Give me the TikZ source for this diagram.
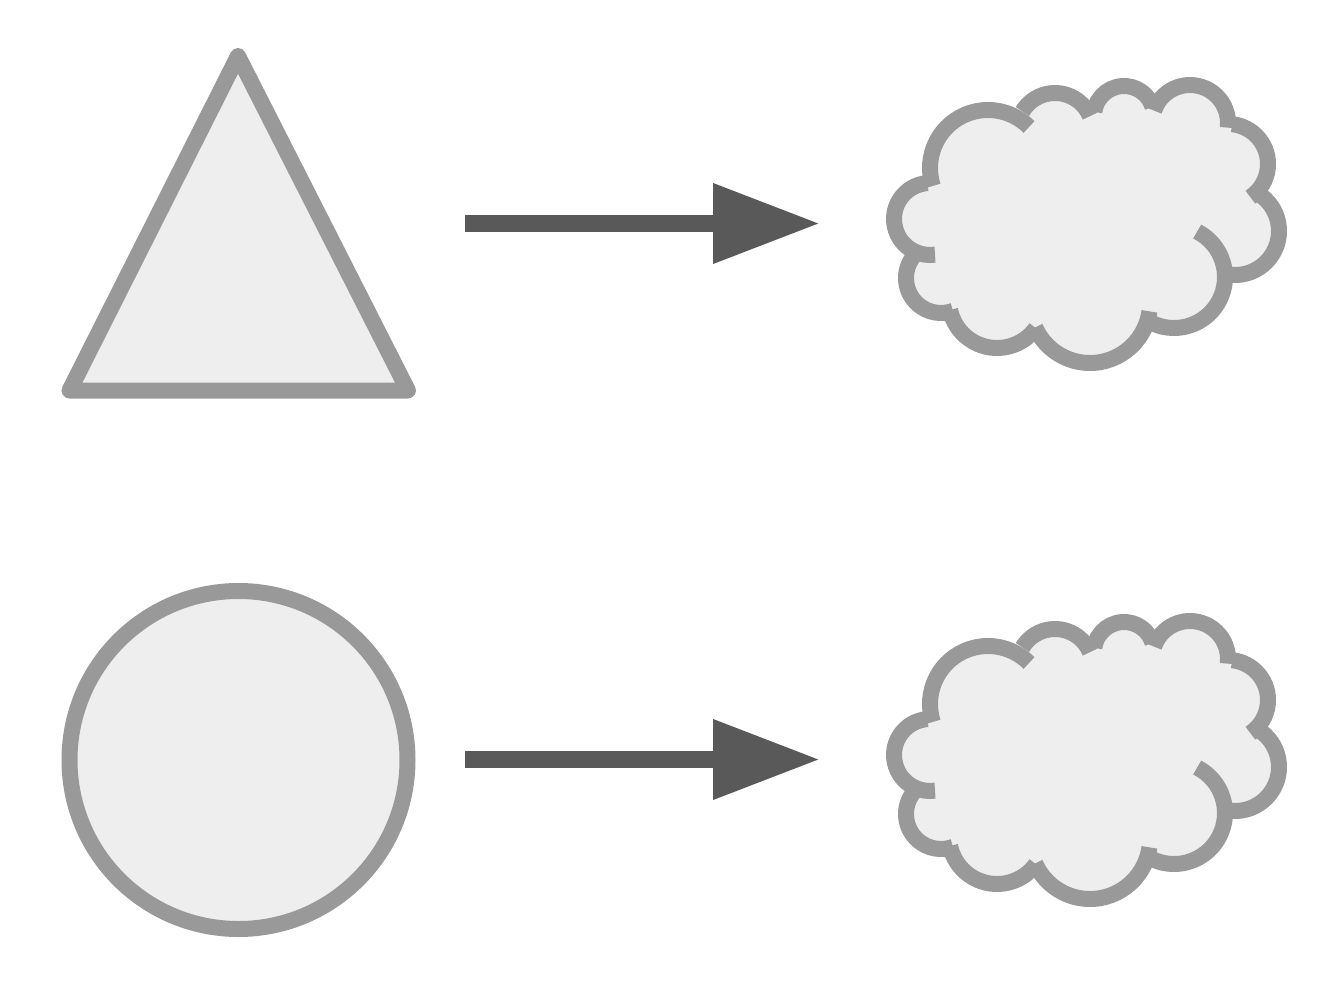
\documentclass[tikz,border=0pt]{standalone}
\usetikzlibrary{arrows.meta}
\definecolor{edgegray}{HTML}{999999}
\definecolor{shapefill}{HTML}{EEEEEE}
\definecolor{arrowgray}{HTML}{595959}
\tikzset{
  shapeline/.style={draw=edgegray, fill=shapefill, line width=16pt, line join=round},
  cloudarc/.style={draw=edgegray, line width=16pt, line cap=butt},
  bigarrow/.style={draw=arrowgray, fill=arrowgray, line width=17pt, line cap=butt,
    -{Triangle[length=107pt,width=76pt]}}
}
% one arc of the cloud outline: centre x, centre y, radius, start angle, end angle
\newcommand\puffarc[5]{\draw[cloudarc] ([shift={(#4:#3)}]#1,#2) arc[start angle=#4,end angle=#5,radius=#3];}
\newcommand\puffcloud{%
  \fill[shapefill] (930,185) -- (988,168) -- (1028,124) -- (1055,131) -- (1092,112) -- (1124,116)
     -- (1153,109) -- (1190,123) -- (1230,127) -- (1228,164) -- (1254,198)
     -- (1235,231) -- (1174,277) -- (1150,311) -- (1090,303) -- (1035,327) -- (997,300)
     -- (951,310) -- (941,278) -- (933,254) -- (930,219) -- cycle;
  \fill[shapefill] (988,168) circle[radius=58];
  \fill[shapefill] (1055,131) circle[radius=38];
  \fill[shapefill] (1124,116) circle[radius=30];
  \fill[shapefill] (1190,123) circle[radius=38];
  \fill[shapefill] (1228,164) circle[radius=40];
  \fill[shapefill] (1235,231) circle[radius=44];
  \fill[shapefill] (1174,277) circle[radius=51];
  \fill[shapefill] (1090,303) circle[radius=60];
  \fill[shapefill] (997,300) circle[radius=48];
  \fill[shapefill] (941,278) circle[radius=35];
  \fill[shapefill] (930,219) circle[radius=36];
  \puffarc{988}{168}{58}{162}{315}
  \puffarc{1055}{131}{38}{211}{337}
  \puffarc{1124}{116}{30}{188}{342}
  \puffarc{1190}{123}{38}{199}{367}
  \puffarc{1228}{164}{40}{276}{416}
  \puffarc{1235}{231}{44}{303}{456}
  \puffarc{1174}{277}{51}{-63}{126}
  \puffarc{1090}{303}{60}{8}{156}
  \puffarc{997}{300}{48}{36}{168}
  \puffarc{941}{278}{35}{220}{70}
  \puffarc{930}{219}{36}{266}{82}
}
\begin{document}
\begin{tikzpicture}[x=1pt,y=-1pt]
\useasboundingbox (0,0) rectangle (1342,988);
% triangle
\draw[shapeline] (238,56) -- (408,390.5) -- (69.5,390.5) -- cycle;
% circle
\draw[shapeline] (238.5,760) circle[radius=169];
% clouds
\begin{scope}
  \puffcloud
\end{scope}
\begin{scope}[shift={(0,536)}]
  \puffcloud
\end{scope}
% arrows
\coordinate (a1s) at (465,223.5);
\coordinate (a1e) at (820,223.5);
\coordinate (a2s) at (465,759.5);
\coordinate (a2e) at (820,759.5);
\draw[bigarrow] (a1s) -- (a1e);
\draw[bigarrow] (a2s) -- (a2e);
\end{tikzpicture}
\end{document}
